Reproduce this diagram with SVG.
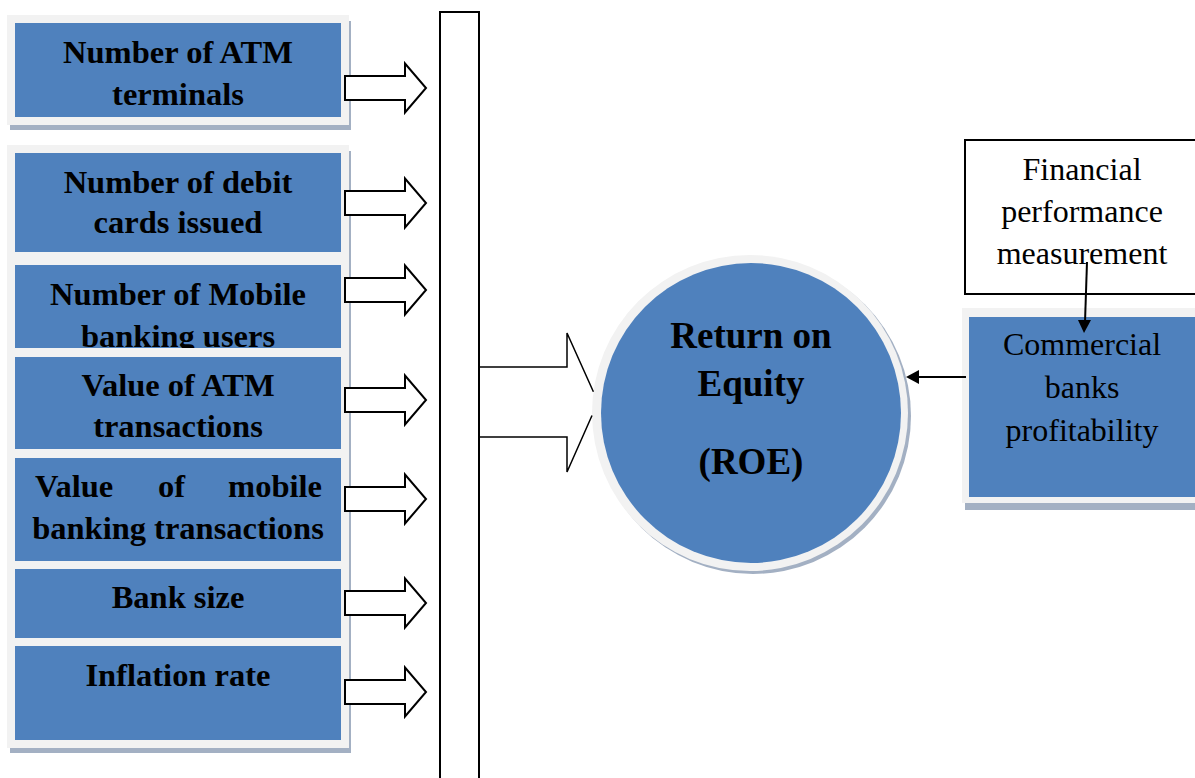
<svg xmlns="http://www.w3.org/2000/svg" width="1195" height="778" viewBox="0 0 1195 778">
<style>
.frame{fill:#F2F2F2}
.shadow{fill:#A3B0C3}
.blue{fill:#4F81BD}
.lbl{font-family:"Liberation Serif","Times New Roman",serif;font-weight:bold;font-size:32.5px;fill:#000;text-anchor:middle}
.reg{font-family:"Liberation Serif","Times New Roman",serif;font-size:32px;fill:#000;text-anchor:middle}
.big{font-family:"Liberation Serif","Times New Roman",serif;font-weight:bold;font-size:37px;fill:#000;text-anchor:middle}
.barrow{fill:#fff;stroke:#000;stroke-width:2;stroke-linejoin:miter}
</style>
<defs>
<clipPath id="clipMob"><rect x="15" y="265" width="326" height="83"/></clipPath>
</defs>
<rect x="0" y="0" width="1195" height="778" fill="#fff"/>

<g id="frames">
<rect class="shadow" x="10" y="21" width="341" height="109"/>
<rect class="frame" x="7" y="15" width="342" height="110"/>
<rect class="shadow" x="10" y="151" width="341" height="602"/>
<rect class="frame" x="7" y="145" width="342" height="603"/>
</g>

<g id="n-atm-terminals">
<rect class="blue" x="15" y="23" width="326" height="94"/>
<text class="lbl" x="178" y="63">Number of ATM</text>
<text class="lbl" x="178" y="105">terminals</text>
</g>
<g id="n-debit">
<rect class="blue" x="15" y="153" width="326" height="99"/>
<text class="lbl" x="178" y="193">Number of debit</text>
<text class="lbl" x="178" y="233">cards issued</text>
</g>
<g id="n-mobile-users">
<rect class="blue" x="15" y="265" width="326" height="83"/>
<g clip-path="url(#clipMob)">
<text class="lbl" x="178" y="305">Number of Mobile</text>
<text class="lbl" x="178" y="347">banking users</text>
</g>
</g>
<g id="n-atm-value">
<rect class="blue" x="15" y="357" width="326" height="92"/>
<text class="lbl" x="178" y="396">Value of ATM</text>
<text class="lbl" x="178" y="437">transactions</text>
</g>
<g id="n-mobile-value">
<rect class="blue" x="15" y="458" width="326" height="103"/>
<text class="lbl" x="35" y="497" style="text-anchor:start">Value</text>
<text class="lbl" x="158" y="497" style="text-anchor:start">of</text>
<text class="lbl" x="322" y="497" style="text-anchor:end">mobile</text>
<text class="lbl" x="178" y="539">banking transactions</text>
</g>
<g id="n-bank-size">
<rect class="blue" x="15" y="569" width="326" height="69"/>
<text class="lbl" x="178" y="608">Bank size</text>
</g>
<g id="n-inflation">
<rect class="blue" x="15" y="646" width="326" height="94"/>
<text class="lbl" x="178" y="686">Inflation rate</text>
</g>

<g id="bar">
<rect x="440" y="12" width="39" height="790" fill="#fff" stroke="#000" stroke-width="2"/>
</g>

<g id="n-roe">
<circle cx="753" cy="416" r="158" class="shadow"/>
<circle cx="750" cy="413" r="158" class="frame"/>
<circle cx="751" cy="413" r="150" class="blue"/>
<text class="big" x="751" y="348">Return on</text>
<text class="big" x="751" y="396">Equity</text>
<text class="big" x="751" y="474">(ROE)</text>
</g>

<g id="n-financial">
<rect x="965" y="140" width="240" height="154" fill="#fff" stroke="#000" stroke-width="2"/>
<text class="reg" x="1082" y="180">Financial</text>
<text class="reg" x="1082" y="222">performance</text>
<text class="reg" x="1082" y="264">measurement</text>
</g>

<g id="n-commercial">
<rect class="shadow" x="965" y="314" width="240" height="196"/>
<rect class="frame" x="962" y="308" width="240" height="195"/>
<rect class="blue" x="969" y="317" width="230" height="180"/>
<text class="reg" x="1082" y="355">Commercial</text>
<text class="reg" x="1082" y="398">banks</text>
<text class="reg" x="1082" y="441">profitability</text>
</g>

<g id="connectors">
<polygon class="barrow" points="345,76 405,76 405,63.5 426,88 405,112.5 405,100 345,100"/>
<polygon class="barrow" points="345,191 405,191 405,178.5 426,203 405,227.5 405,215 345,215"/>
<polygon class="barrow" points="345,278 405,278 405,265.5 426,290 405,314.5 405,302 345,302"/>
<polygon class="barrow" points="345,388 405,388 405,375.5 426,400 405,424.5 405,412 345,412"/>
<polygon class="barrow" points="345,487 405,487 405,474.5 426,499 405,523.5 405,511 345,511"/>
<polygon class="barrow" points="345,591 405,591 405,578.5 426,603 405,627.5 405,615 345,615"/>
<polygon class="barrow" points="345,680 405,680 405,667.5 426,692 405,716.5 405,704 345,704"/>
<path d="M479,367 H567 V333 L593.4,391.8 M592,415.5 L567,472 V437 H479" fill="none" stroke="#000" stroke-width="1.5"/>
<line x1="1087" y1="262" x2="1085" y2="322" stroke="#000" stroke-width="2"/>
<polygon points="1078,320 1091,320 1084,333" fill="#000"/>
<line x1="966" y1="377" x2="917" y2="377" stroke="#000" stroke-width="2"/>
<polygon points="906,377 919,370 919,384" fill="#000"/>
</g>
</svg>
